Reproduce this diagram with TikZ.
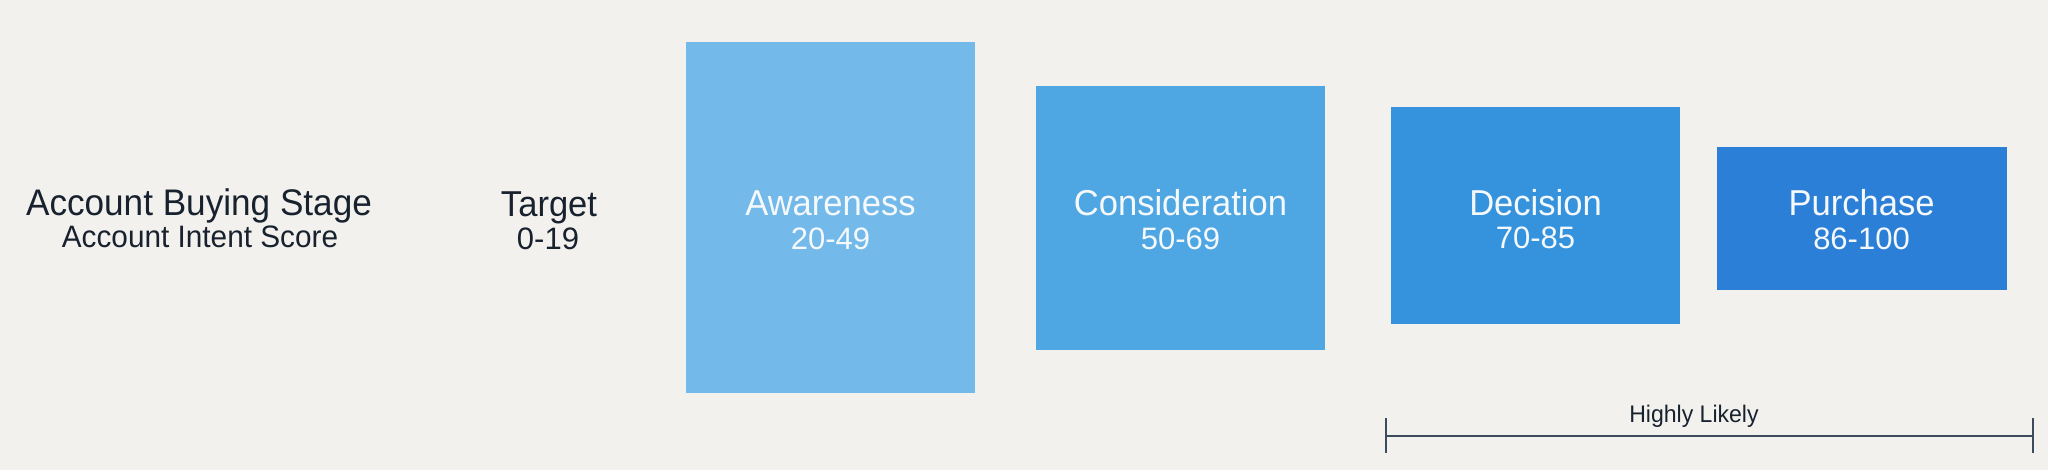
\documentclass[tikz,border=0pt]{standalone}
\usepackage{fontspec}
\setmainfont{Liberation Sans}
\newfontfamily\titlefont[FakeStretch=0.95]{Liberation Sans}
\newfontfamily\subfont[FakeStretch=0.96]{Liberation Sans}
\newfontfamily\midfont[FakeStretch=0.96]{Liberation Sans}
\definecolor{bg}{HTML}{F3F1EE}
\definecolor{ink}{HTML}{18222E}
\definecolor{cAw}{HTML}{73B9E9}
\definecolor{cCo}{HTML}{4EA7E2}
\definecolor{cDe}{HTML}{3593DD}
\definecolor{cPu}{HTML}{2C7FD6}
\definecolor{rule}{HTML}{3C4B5E}
\definecolor{wtxt}{HTML}{F6F9FC}
\tikzset{
  stagebox/.style={inner sep=0pt, outer sep=0pt, draw=none},
  title/.style={anchor=base, inner sep=0pt, text=ink, font=\titlefont\fontsize{37}{44}\selectfont},
  subtitle/.style={anchor=base, inner sep=0pt, text=ink, font=\subfont\fontsize{31}{36}\selectfont},
  darklbl/.style={anchor=base, inner sep=0pt, text=ink, font=\midfont\fontsize{36}{42}\selectfont},
  darknum/.style={anchor=base, inner sep=0pt, text=ink, font=\fontsize{31}{36}\selectfont},
  boxlbl/.style={anchor=base, inner sep=0pt, text=wtxt, font=\midfont\fontsize{36}{42}\selectfont},
  boxnum/.style={anchor=base, inner sep=0pt, text=wtxt, font=\fontsize{31}{36}\selectfont},
  rulelbl/.style={anchor=base, inner sep=0pt, text=ink, font=\midfont\fontsize{24}{28}\selectfont},
  bracket/.style={draw=rule, line width=2pt}
}
\begin{document}
\begin{tikzpicture}[x=1pt,y=-1pt]
\fill[bg] (0,0) rectangle (2048,470);
\useasboundingbox (0,0) rectangle (2048,470);

% left labels
\node[title] (abs) at (199,216) {Account Buying Stage};
\node[subtitle] (ais) at (200,248) {Account Intent Score};

\node[darklbl] (tg) at (549,217) {Target};
\node[darknum] (tgn) at (548,250) {0-19};

% stage boxes
\node[stagebox, fill=cAw, minimum width=289pt, minimum height=351pt] (aw) at (830.5,217.5) {};
\node[stagebox, fill=cCo, minimum width=289pt, minimum height=264pt] (co) at (1180.5,218) {};
\node[stagebox, fill=cDe, minimum width=289pt, minimum height=217pt] (de) at (1535.5,215.5) {};
\node[stagebox, fill=cPu, minimum width=290pt, minimum height=143pt] (pu) at (1861.5,219) {};

\node[boxlbl] (awl) at (aw.center |- 0,216) {Awareness};
\node[boxnum] (awn) at (aw.center |- 0,250) {20-49};
\node[boxlbl] (col) at (co.center |- 0,216) {Consideration};
\node[boxnum] (con) at (co.center |- 0,250) {50-69};
\node[boxlbl] (del) at (de.center |- 0,216) {Decision};
\node[boxnum] (den) at (de.center |- 0,249) {70-85};
\node[boxlbl] (pul) at (pu.center |- 0,216) {Purchase};
\node[boxnum] (pun) at (pu.center |- 0,250) {86-100};

% bracket
\coordinate (bl) at (1386,436);
\coordinate (br) at (2033,436);
\coordinate (blt) at (1386,418);
\coordinate (blb) at (1386,453);
\coordinate (brt) at (2033,418);
\coordinate (brb) at (2033,453);
\draw[bracket] (bl) -- (br);
\draw[bracket] (blt) -- (blb);
\draw[bracket] (brt) -- (brb);
\node[rulelbl] (hl) at (1694,422) {Highly Likely};
\end{tikzpicture}
\end{document}
